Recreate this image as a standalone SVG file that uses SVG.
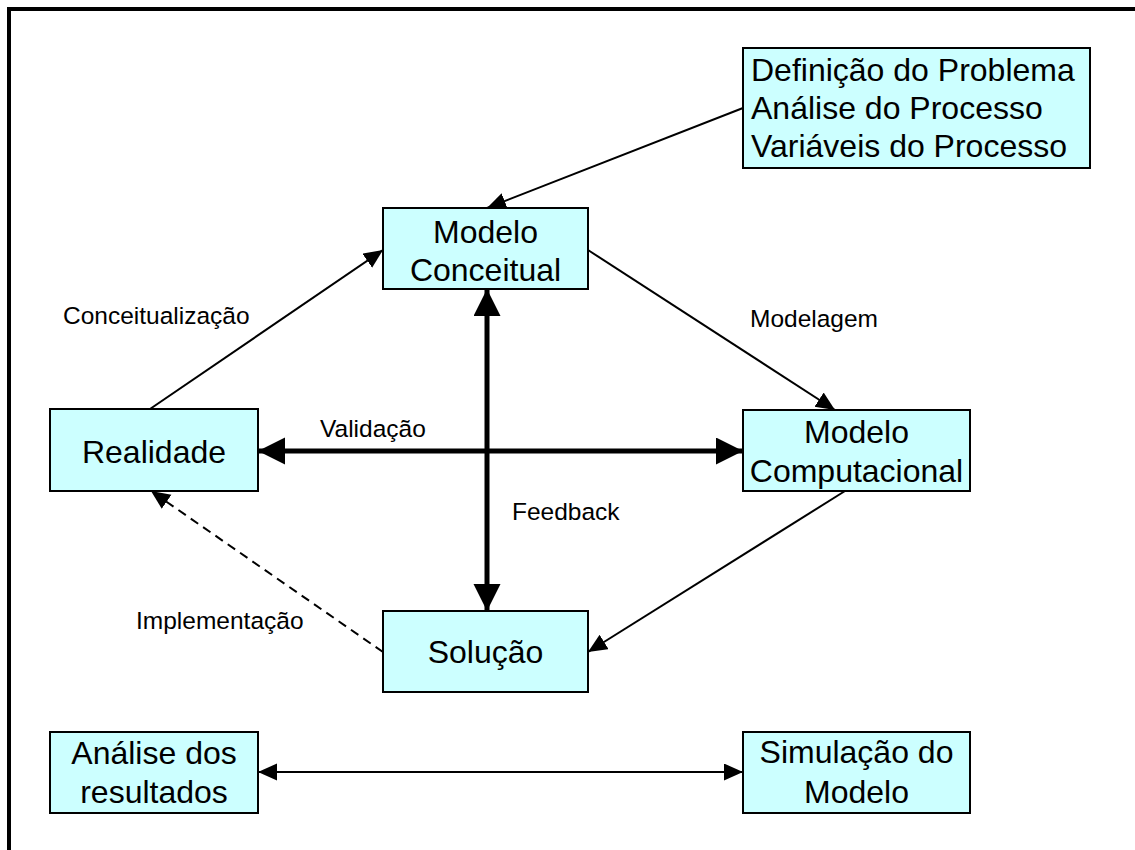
<svg xmlns="http://www.w3.org/2000/svg" width="1135" height="850" viewBox="0 0 1135 850">
<style>
.box{fill:#CCFFFF;stroke:#000;stroke-width:2}
.bt{font-family:"Liberation Sans",Arial,sans-serif;font-size:32px;fill:#000;text-anchor:middle}
.bl{font-family:"Liberation Sans",Arial,sans-serif;font-size:32px;fill:#000}
.lb{font-family:"Liberation Sans",Arial,sans-serif;font-size:24.5px;fill:#000}
.thin{stroke:#000;stroke-width:2;fill:none}
.thick{stroke:#000;stroke-width:5;fill:none}
</style>
<defs>
<marker id="a" markerUnits="userSpaceOnUse" markerWidth="20" markerHeight="18" refX="19" refY="8.5" orient="auto-start-reverse" viewBox="0 0 20 18">
<path d="M0,0 L19,8.5 L0,17 z" fill="#000"/>
</marker>
<marker id="b" markerUnits="userSpaceOnUse" markerWidth="28" markerHeight="28" refX="27" refY="13.5" orient="auto-start-reverse" viewBox="0 0 28 28">
<path d="M0,0 L27,13.5 L0,27 z" fill="#000"/>
</marker>
</defs>
<rect width="1135" height="850" fill="#fff"/>
<path d="M9,850 V9 H1135" stroke="#000" stroke-width="4" fill="none"/>
<g id="connectors">
<line class="thin" x1="743" y1="108" x2="487" y2="208" marker-end="url(#a)"/>
<line class="thin" x1="150" y1="409" x2="383" y2="250" marker-end="url(#a)"/>
<line class="thin" x1="588" y1="250" x2="835" y2="410" marker-end="url(#a)"/>
<line class="thin" x1="845" y1="491" x2="588" y2="652" marker-end="url(#a)"/>
<line class="thin" x1="383" y1="652" x2="151" y2="491" stroke-dasharray="9,6" marker-end="url(#a)"/>
<line class="thick" x1="258" y1="451" x2="743" y2="451" marker-start="url(#b)" marker-end="url(#b)"/>
<line class="thick" x1="487" y1="289" x2="487" y2="611" marker-start="url(#b)" marker-end="url(#b)"/>
<line class="thin" x1="258" y1="772" x2="743" y2="772" marker-start="url(#a)" marker-end="url(#a)"/>
<text class="lb" x="63" y="324">Conceitualização</text>
<text class="lb" x="750" y="327">Modelagem</text>
<text class="lb" x="320" y="437">Validação</text>
<text class="lb" x="512" y="520">Feedback</text>
<text class="lb" x="136" y="629">Implementação</text>
</g>
<g id="definicao">
<rect class="box" x="743" y="48" width="347" height="120"/>
<text class="bl" x="751" y="81">Definição do Problema</text>
<text class="bl" x="751" y="119">Análise do Processo</text>
<text class="bl" x="751" y="157">Variáveis do Processo</text>
</g>
<g id="modelo-conceitual">
<rect class="box" x="383" y="208" width="205" height="81"/>
<text class="bt" x="485.5" y="243">Modelo</text>
<text class="bt" x="485.5" y="281">Conceitual</text>
</g>
<g id="realidade">
<rect class="box" x="50" y="409" width="208" height="82"/>
<text class="bt" x="154" y="463">Realidade</text>
</g>
<g id="modelo-computacional">
<rect class="box" x="743" y="410" width="227" height="81"/>
<text class="bt" x="856.5" y="443">Modelo</text>
<text class="bt" x="856.5" y="482">Computacional</text>
</g>
<g id="solucao">
<rect class="box" x="383" y="611" width="205" height="81"/>
<text class="bt" x="485.5" y="663">Solução</text>
</g>
<g id="analise">
<rect class="box" x="50" y="732" width="208" height="81"/>
<text class="bt" x="154" y="764">Análise dos</text>
<text class="bt" x="154" y="803">resultados</text>
</g>
<g id="simulacao">
<rect class="box" x="743" y="732" width="227" height="81"/>
<text class="bt" x="856.5" y="763">Simulação do</text>
<text class="bt" x="856.5" y="803">Modelo</text>
</g>
</svg>
